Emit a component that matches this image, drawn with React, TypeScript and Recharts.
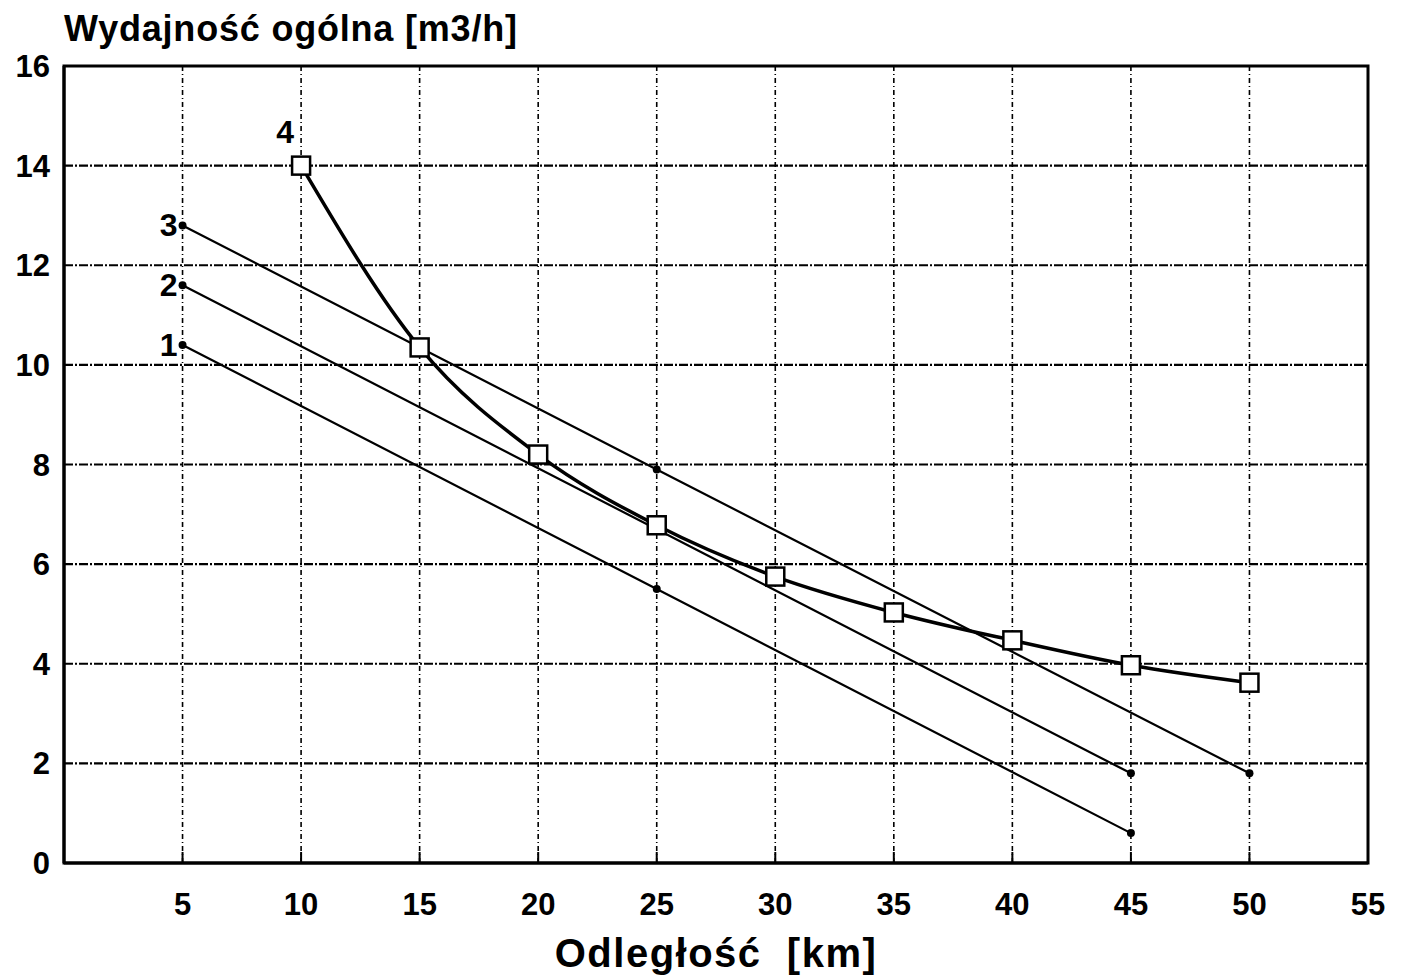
import React from 'react';
import {
  LineChart,
  Line,
  XAxis,
  YAxis,
  CartesianGrid,
  ReferenceArea
} from 'recharts';

// odległość [km] dla poszczególnych wariantów
const dist1 = [5, 25, 45];
const dist2 = [5, 25, 45];
const dist3 = [5, 25, 50];
const dist4 = [10, 15, 20, 25, 30, 35, 40, 45, 50];

// wydajność ogólna [m3/h]
const perf1 = [10.4, 5.5, 0.6];
const perf2 = [11.6, 6.7, 1.8];
const perf3 = [12.8, 7.9, 1.8];
const perf4 = [14.0, 10.35, 8.2, 6.78, 5.75, 5.03, 4.47, 3.97, 3.62];

const xTicks = [5, 10, 15, 20, 25, 30, 35, 40, 45, 50, 55];
const yTicks = [0, 2, 4, 6, 8, 10, 12, 14, 16];

const seriesNames = ['1', '2', '3', '4'];

const FONT = "'Liberation Sans', Arial, sans-serif";

const toPoints = (xs: number[], ys: number[]) => xs.map((x, i) => ({ x, y: ys[i] }));

const s1 = toPoints(dist1, perf1);
const s2 = toPoints(dist2, perf2);
const s3 = toPoints(dist3, perf3);
const s4 = toPoints(dist4, perf4);

const XTick = (props: any) => {
  const { x, y, payload } = props;
  return (
    <g>
      <line x1={x} x2={x} y1={y} y2={y - 11} stroke="#000" strokeWidth={2} />
      <text
        x={x}
        y={y + 41}
        textAnchor="middle"
        dominantBaseline="central"
        fontFamily={FONT}
        fontWeight="bold"
        fontSize={31}
        fill="#000"
      >
        {payload.value}
      </text>
    </g>
  );
};

const SquareDot = (props: any) => {
  const { cx, cy, index } = props;
  if (cx == null || cy == null) return <g key={index} />;
  return (
    <rect
      key={index}
      x={cx - 9}
      y={cy - 9}
      width={18}
      height={18}
      fill="#fff"
      stroke="#000"
      strokeWidth={2.5}
    />
  );
};

const SmallDot = (props: any) => {
  const { cx, cy, index } = props;
  if (cx == null || cy == null) return <g key={index} />;
  return <circle key={index} cx={cx} cy={cy} r={4} fill="#000" />;
};

const makeLabel = (name: string, dx: number, dy: number) => (props: any) => {
  const { x, y, index } = props;
  if (index !== 0) return <g />;
  return (
    <text
      x={x + dx}
      y={y + dy}
      textAnchor="middle"
      dominantBaseline="central"
      fontFamily={FONT}
      fontWeight="bold"
      fontSize={32}
      fill="#000"
    >
      {name}
    </text>
  );
};

export default function App() {
  return (
    <div style={{ position: 'absolute', left: 0, top: 0, width: 1407, height: 975, background: '#fff' }}>
      <div
        style={{
          position: 'absolute',
          left: 64,
          top: 9,
          fontFamily: FONT,
          fontWeight: 'bold',
          fontSize: 36,
          letterSpacing: 0.8,
          lineHeight: '40px',
          color: '#000',
          whiteSpace: 'nowrap'
        }}
      >
        Wydajność ogólna [m3/h]
      </div>
      <LineChart width={1407} height={975} margin={{ top: 66, right: 39, bottom: 0, left: 0 }}>
        <CartesianGrid horizontal={false} stroke="#000" strokeWidth={1.6} strokeDasharray="5 3 1 3" />
        <CartesianGrid vertical={false} stroke="#000" strokeWidth={2.2} strokeDasharray="9 2 2 2" />
        <XAxis
          type="number"
          dataKey="x"
          domain={[0, 55]}
          ticks={xTicks}
          allowDuplicatedCategory={false}
          height={112}
          tickSize={0}
          tickMargin={0}
          tickLine={false}
          axisLine={{ stroke: '#000', strokeWidth: 3 }}
          tick={<XTick />}
          label={{
            value: 'Odległość\u00a0\u00a0[km]',
            position: 'insideBottom',
            offset: 8,
            style: { fontFamily: FONT, fontWeight: 'bold', fontSize: 40, letterSpacing: 1.5, fill: '#000' }
          }}
        />
        <YAxis
          type="number"
          dataKey="y"
          domain={[0, 16]}
          ticks={yTicks}
          width={64}
          tickSize={0}
          tickMargin={14}
          tickLine={false}
          axisLine={{ stroke: '#000', strokeWidth: 3 }}
          tick={{ fontFamily: FONT, fontWeight: 'bold', fontSize: 31, fill: '#000' }}
        />
        <ReferenceArea x1={0} x2={55} y1={0} y2={16} fill="none" stroke="#000" strokeWidth={3} ifOverflow="visible" />
        <Line
          data={s1}
          dataKey="y"
          name={seriesNames[0]}
          type="linear"
          stroke="#000"
          strokeWidth={2.2}
          dot={<SmallDot />}
          label={makeLabel(seriesNames[0], -14, 0)}
          isAnimationActive={false}
        />
        <Line
          data={s2}
          dataKey="y"
          name={seriesNames[1]}
          type="linear"
          stroke="#000"
          strokeWidth={2.2}
          dot={<SmallDot />}
          label={makeLabel(seriesNames[1], -14, 0)}
          isAnimationActive={false}
        />
        <Line
          data={s3}
          dataKey="y"
          name={seriesNames[2]}
          type="linear"
          stroke="#000"
          strokeWidth={2.2}
          dot={<SmallDot />}
          label={makeLabel(seriesNames[2], -14, 0)}
          isAnimationActive={false}
        />
        <Line
          data={s4}
          dataKey="y"
          name={seriesNames[3]}
          type="monotone"
          stroke="#000"
          strokeWidth={3.5}
          dot={<SquareDot />}
          label={makeLabel(seriesNames[3], -16, -34)}
          isAnimationActive={false}
        />
      </LineChart>
    </div>
  );
}
